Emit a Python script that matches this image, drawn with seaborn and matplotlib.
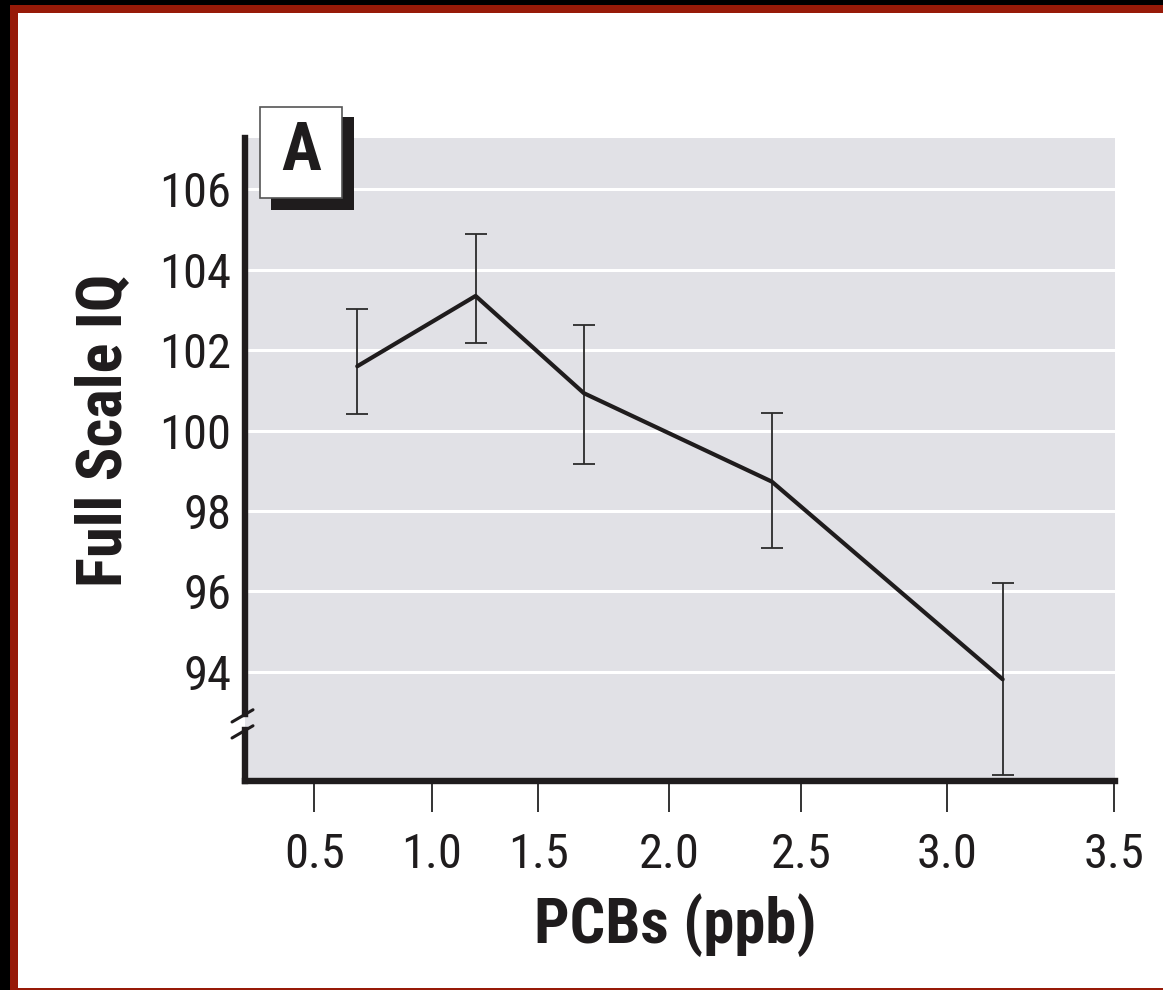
import numpy as np
import pandas as pd
import matplotlib
matplotlib.use("Agg")
import matplotlib.pyplot as plt
from matplotlib import font_manager
from matplotlib.patches import Rectangle
import seaborn as sns

# Mean Full Scale IQ by PCB level, with (asymmetric) error bar ends
pcb_ppb = [0.683, 1.206, 1.674, 2.390, 3.167]
iq_mean = [101.60, 103.35, 100.93, 98.73, 93.81]
iq_upper = [103.02, 104.90, 102.62, 100.43, 96.21]
iq_lower = [100.40, 102.18, 99.16, 97.09, 91.43]

x_ticks = [0.5, 1.0, 1.5, 2.0, 2.5, 3.0, 3.5]
x_ticklabels = ["0.5", "1.0", "1.5", "2.0", "2.5", "3.0", "3.5"]
y_ticks = [94, 96, 98, 100, 102, 104, 106]

# the printed x axis is not evenly spaced -> where each tick sits (px)
x_tick_pos = [314.3, 431.7, 538.3, 669.3, 800.7, 946.7, 1114.3]

W, H = 1163, 990

_sv = np.r_[0.0, x_ticks, 4.0]
_sp = np.r_[2 * x_tick_pos[0] - x_tick_pos[1], x_tick_pos,
            2 * x_tick_pos[-1] - x_tick_pos[-2]]


def fwd(v):
    return np.interp(v, _sv, _sp)


def inv(p):
    return np.interp(p, _sp, _sv)


def pick_narrow_font():
    """Find a condensed sans if one is installed, else Liberation Sans."""
    fl = font_manager.fontManager.ttflist
    names = {f.name for f in fl}
    for n in ['Liberation Sans Narrow', 'Roboto Condensed',
              'Open Sans Condensed', 'Noto Sans Condensed']:
        if n in names:
            return n, 'normal'
    for n in ['Noto Sans', 'DejaVu Sans', 'Roboto', 'Open Sans']:
        for f in fl:
            if f.name == n and str(f.stretch) in ('condensed', 'semi-condensed'):
                return n, 'condensed'
    return 'Liberation Sans', 'normal'


sns.set_theme(style="darkgrid")
fam, stretch = pick_narrow_font()
plt.rcParams['font.family'] = [fam, 'DejaVu Sans']
plt.rcParams['font.stretch'] = stretch
narrow = fam != 'Liberation Sans'
fs_tick = 35 if narrow else 33
fs_lab = 45 if narrow else 40
ink = '#1f1c1d'

fig, ax = plt.subplots(figsize=(W / 100, H / 100), dpi=100)
fig.patch.set_facecolor('white')
fig.subplots_adjust(left=245 / W, right=1115 / W,
                    bottom=(H - 781) / H, top=(H - 138) / H)

df = pd.DataFrame({'pcb': pcb_ppb, 'iq': iq_mean})
sns.lineplot(data=df, x='pcb', y='iq', color=ink, lw=3.0, ax=ax, zorder=4)

mean = np.array(iq_mean)
yerr = [mean - np.array(iq_lower), np.array(iq_upper) - mean]
ax.errorbar(pcb_ppb, iq_mean, yerr=yerr, fmt='none', ecolor='#2b2b2b',
            elinewidth=1.3, capsize=8, capthick=1.3, zorder=3)

ax.set_xscale('function', functions=(fwd, inv))
ax.set_xlim(inv(245), inv(1115))
ax.set_ylim(91.28, 107.28)

ax.set_facecolor('#e1e1e6')
ax.grid(False)
ax.yaxis.grid(True, color='white', lw=2.2)
ax.set_axisbelow(True)

ax.set_xticks(x_ticks)
ax.set_xticklabels(x_ticklabels)
ax.set_yticks(y_ticks)
ax.tick_params(axis='x', bottom=True, direction='out', length=22, width=1.4,
               color='#333333', pad=15, labelsize=fs_tick, labelcolor=ink)
ax.tick_params(axis='y', left=False, length=0, pad=10, labelsize=fs_tick,
               labelcolor=ink)

for s in ['top', 'right']:
    ax.spines[s].set_visible(False)
for s in ['left', 'bottom']:
    ax.spines[s].set_visible(True)
    ax.spines[s].set_color(ink)
    ax.spines[s].set_linewidth(4.6)

# broken y axis
ax.spines['left'].set_bounds(92.95, 107.28)
x0 = ax.get_xlim()[0]
ax.plot([x0, x0], [91.28, 92.55], color=ink, lw=4.6, clip_on=False,
        solid_capstyle='projecting', zorder=5)
for yb in [0.0918, 0.0669]:
    ax.plot([-0.0149, 0.0092], [yb, yb + 0.019], color=ink, lw=2.2,
            transform=ax.transAxes, clip_on=False, zorder=6)

ax.set_xlabel('PCBs (ppb)', fontsize=fs_lab, fontweight='bold', color=ink,
              va='center')
ax.xaxis.set_label_coords(0.495, -0.224)
ax.set_ylabel('Full Scale IQ', fontsize=fs_lab, fontweight='bold', color=ink,
              va='center')
ax.yaxis.set_label_coords(-0.162, 0.546)

# panel letter with drop shadow
fig.add_artist(Rectangle((271 / W, 1 - 210 / H), 83 / W, 93 / H,
                         transform=fig.transFigure, facecolor=ink,
                         edgecolor='none', zorder=10))
fig.add_artist(Rectangle((260 / W, 1 - 198 / H), 82 / W, 91 / H,
                         transform=fig.transFigure, facecolor='white',
                         edgecolor='#555555', lw=1.2, zorder=11))
fig.text(301 / W, 1 - 152 / H, 'A', ha='center', va='center', fontsize=48,
         fontweight='bold', color=ink, zorder=12)

# frame around the figure
red = '#971a08'
fig.add_artist(Rectangle((0, 0), 10 / W, 1, transform=fig.transFigure,
                         facecolor='black', edgecolor='none'))
fig.add_artist(Rectangle((0, 1 - 5 / H), 1, 5 / H, transform=fig.transFigure,
                         facecolor='black', edgecolor='none'))
fig.add_artist(Rectangle((10 / W, 0), 8 / W, 1 - 5 / H,
                         transform=fig.transFigure, facecolor=red,
                         edgecolor='none'))
fig.add_artist(Rectangle((10 / W, 1 - 13 / H), 1, 8 / H,
                         transform=fig.transFigure, facecolor=red,
                         edgecolor='none'))
fig.add_artist(Rectangle((10 / W, 0), 1, 2.5 / H, transform=fig.transFigure,
                         facecolor=red, edgecolor='none'))

fig.savefig('out.png', dpi=100)
plt.close(fig)
